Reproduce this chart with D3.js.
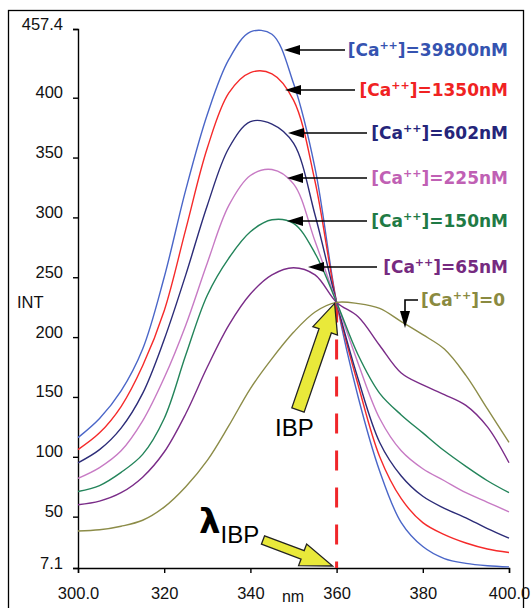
<!DOCTYPE html>
<html>
<head>
<meta charset="utf-8">
<script src="https://cdn.jsdelivr.net/npm/d3@7"></script>
<style>
  body { margin: 0; background: #fff; }
  svg { display: block; }
</style>
</head>
<body>
<div id="chart"></div>
<script>
const width = 532;
const height = 608;
const sans = "Liberation Sans, Arial, sans-serif";
const bold = "DejaVu Sans, Verdana, sans-serif";

// wavelengths (nm)
const wavelengths = [300, 305, 310, 315, 320, 325, 330, 335, 340, 345, 350,
                     355, 360, 365, 370, 375, 380, 385, 390, 395, 400];

// INT values, one list per [Ca++]
const ca39800 = [116, 132, 155, 190, 250, 323, 386, 432, 455, 453, 412, 341, 229, 150, 88, 45, 25, 15, 11, 9, 8];
const ca1350  = [106, 120, 142, 176, 222, 290, 358, 404, 421, 420, 398, 330, 229, 160, 100, 65, 45, 35, 28, 23, 20];
const ca602   = [95, 106, 124, 153, 198, 252, 310, 358, 380, 378, 362, 302, 229, 165, 112, 84, 67, 57, 49, 40, 32];
const ca225   = [82, 91, 105, 130, 166, 210, 262, 310, 335, 340, 328, 280, 229, 178, 132, 105, 90, 80, 70, 62, 54];
const ca150   = [71, 76, 87, 102, 132, 185, 235, 266, 288, 298, 295, 270, 229, 185, 153, 135, 120, 105, 92, 80, 70];
const ca65    = [60, 63, 70, 83, 104, 136, 175, 210, 236, 252, 258, 252, 229, 217, 193, 170, 160, 152, 143, 125, 95];
const ca0     = [38, 39, 42, 47, 58, 75, 97, 126, 157, 182, 204, 221, 229, 228, 224, 213, 202, 190, 168, 140, 112];

const seriesNames  = ["39800nM", "1350nM", "602nM", "225nM", "150nM", "65nM", "0"];
const seriesValues = [ca39800, ca1350, ca602, ca225, ca150, ca65, ca0];
const lineColors   = ["#4a66c8", "#f52a2a", "#2c2c78", "#c77ac4", "#23845a", "#7a2c88", "#8c8c48"];
const labelColors  = ["#3553b0", "#f02222", "#25257a", "#c060b4", "#1f7a45", "#762a80", "#8a8a40"];

const yTicks = [7.1, 50, 100, 150, 200, 250, 300, 350, 400, 457.4];
const xTicks = [300, 320, 340, 360, 380, 400];
const xTickLabels = ["300.0", "320", "340", "360", "380", "400.0"];

const ibp = 360;

const x = d3.scaleLinear().domain([300, 400]).range([78, 509]);
const y = d3.scaleLinear().domain([7.1, 457.4]).range([568, 29]);

const svg = d3.select("#chart").append("svg")
  .attr("width", width)
  .attr("height", height);

// outer frame
svg.append("rect")
  .attr("x", 8.5).attr("y", 10.5)
  .attr("width", 515).attr("height", 610)
  .attr("fill", "none").attr("stroke", "#000").attr("stroke-width", 1.3);

// axes
const yAxis = svg.append("g")
  .attr("transform", `translate(${x(300)},0)`)
  .call(d3.axisLeft(y).tickValues(yTicks).tickSize(5).tickPadding(10)
    .tickFormat(d => d === 7.1 ? "7.1" : d === 457.4 ? "457.4" : d));
yAxis.selectAll("text").attr("dy", 0).attr("y", 0).attr("font-size", 16.5)
  .attr("font-family", sans).attr("fill", "#111");

const xAxis = svg.append("g")
  .attr("transform", `translate(0,${y(7.1)})`)
  .call(d3.axisBottom(x).tickValues(xTicks).tickSize(5)
    .tickFormat((d, i) => xTickLabels[i]));
xAxis.selectAll("text").attr("dy", 0).attr("y", 31).attr("font-size", 16.5)
  .attr("font-family", sans).attr("fill", "#111");

[yAxis, xAxis].forEach(a => {
  a.select(".domain").attr("stroke", "#000").attr("stroke-width", 1.4);
  a.selectAll(".tick line").attr("stroke", "#000").attr("stroke-width", 1.4);
});

svg.append("text").attr("x", 17).attr("y", 308).attr("font-family", sans)
  .attr("font-size", 16.5).attr("fill", "#111").text("INT");
svg.append("text").attr("x", 293).attr("y", 602).attr("text-anchor", "middle")
  .attr("font-family", sans).attr("font-size", 16).attr("fill", "#111").text("nm");

// IBP dashed line
svg.append("line")
  .attr("x1", x(ibp)).attr("x2", x(ibp))
  .attr("y1", y(229)).attr("y2", y(7.1))
  .attr("stroke", "#f0262a").attr("stroke-width", 3)
  .attr("stroke-dasharray", "20,17");

// spectra
const line = d3.line()
  .x((d, i) => x(wavelengths[i]))
  .y(d => y(d))
  .curve(d3.curveCatmullRom.alpha(0.5));

svg.append("g").selectAll("path")
  .data(seriesValues)
  .join("path")
    .attr("d", line)
    .attr("fill", "none")
    .attr("stroke", (d, i) => lineColors[i])
    .attr("stroke-width", 1.4);

// label pointers
function headLeft(g, tx, ty) {
  g.append("polygon")
    .attr("points", `${tx},${ty} ${tx + 16},${ty - 5} ${tx + 16},${ty + 5}`)
    .attr("fill", "#000");
}

const labelY   = [50, 90, 133, 178, 221, 267];
const tipX     = [284, 285, 288, 287, 287, 308];
const lineEnd  = [345, 355, 367, 367, 367, 377];

const ann = svg.append("g");
labelY.forEach((ly, i) => {
  ann.append("line")
    .attr("x1", tipX[i] + 10).attr("x2", lineEnd[i])
    .attr("y1", ly).attr("y2", ly)
    .attr("stroke", "#000").attr("stroke-width", 1.6);
  headLeft(ann, tipX[i], ly);
});

// [Ca++]=0 pointer
ann.append("path")
  .attr("d", "M418,300 H405 V314")
  .attr("fill", "none").attr("stroke", "#000").attr("stroke-width", 1.6);
ann.append("polygon")
  .attr("points", "405,328 400,311 410,311").attr("fill", "#000");

// labels
const labelX = [508, 508, 508, 508, 508, 508, 505];
const labelYs = [...labelY, 300];
seriesNames.forEach((name, i) => {
  const t = svg.append("text")
    .attr("x", labelX[i]).attr("y", labelYs[i] + 6)
    .attr("text-anchor", "end")
    .attr("font-family", bold)
    .attr("font-weight", "bold")
    .attr("font-size", 17)
    .attr("fill", labelColors[i]);
  t.append("tspan").text("[Ca");
  t.append("tspan").attr("font-size", 11).attr("dy", -7).text("++");
  t.append("tspan").attr("dy", 7).text("]=" + name);
});

// yellow block arrows
function blockArrow(tail, tip, shaftW, headW, headL) {
  const dx = tip[0] - tail[0], dy = tip[1] - tail[1];
  const len = Math.hypot(dx, dy);
  const ux = dx / len, uy = dy / len;
  const px = -uy, py = ux;
  const bx = tip[0] - ux * headL, by = tip[1] - uy * headL;
  const pts = [
    [tail[0] + px * shaftW / 2, tail[1] + py * shaftW / 2],
    [bx + px * shaftW / 2, by + py * shaftW / 2],
    [bx + px * headW / 2, by + py * headW / 2],
    tip,
    [bx - px * headW / 2, by - py * headW / 2],
    [bx - px * shaftW / 2, by - py * shaftW / 2],
    [tail[0] - px * shaftW / 2, tail[1] - py * shaftW / 2]
  ];
  svg.append("polygon")
    .attr("points", pts.map(p => p.join(",")).join(" "))
    .attr("fill", "#e9e93a")
    .attr("stroke", "#222").attr("stroke-width", 1.3)
    .attr("stroke-linejoin", "miter");
}

blockArrow([298, 410], [x(ibp) - 2, y(229) + 1], 13, 26, 29);
blockArrow([263, 540], [x(ibp) - 4, y(7.1) - 2], 9, 23, 32);

svg.append("text").attr("x", 275).attr("y", 436).attr("font-family", sans)
  .attr("font-size", 24).attr("fill", "#000").text("IBP");

const lam = svg.append("text").attr("x", 199).attr("y", 533)
  .attr("font-family", bold)
  .attr("font-weight", "bold").attr("font-size", 34).attr("fill", "#000");
lam.append("tspan").text("λ");
lam.append("tspan").attr("font-family", sans)
  .attr("font-weight", "normal").attr("font-size", 24).attr("dy", 10).text("IBP");
</script>
</body>
</html>
